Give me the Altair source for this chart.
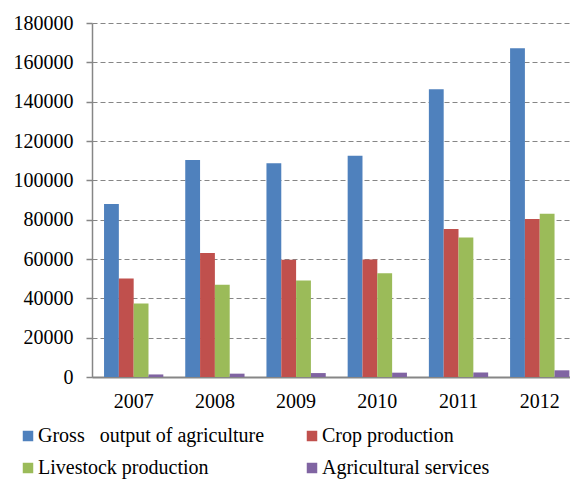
import altair as alt
import pandas as pd

years = ["2007", "2008", "2009", "2010", "2011", "2012"]
series = ["Gross\u00a0\u00a0\u00a0output of agriculture", "Crop production",
          "Livestock production", "Agricultural services"]
gross = [88000, 110300, 108700, 112500, 146300, 167200]
crop = [50100, 63000, 59600, 59700, 75200, 80300]
livestock = [37400, 46900, 49100, 52700, 70900, 83000]
services = [1300, 1700, 2000, 2200, 2300, 3400]
colors = ["#4F81BD", "#C0504D", "#9BBB59", "#8064A2"]

rows = []
for name, vals in zip(series, [gross, crop, livestock, services]):
    for y, v in zip(years, vals):
        rows.append({"year": y, "series": name, "value": v})
df = pd.DataFrame(rows)

# legend fills column by column: arrange so rows read Gross, Crop / Livestock, Services
legend_order = [series[0], series[2], series[1], series[3]]
legend_colors = [colors[0], colors[2], colors[1], colors[3]]

FONT = "Times New Roman, Liberation Serif, serif"

chart = alt.Chart(df).mark_bar().encode(
    x=alt.X("year:N", sort=years,
            scale=alt.Scale(paddingInner=0.27, paddingOuter=0.078, align=0.95),
            axis=alt.Axis(title=None, labelAngle=0, ticks=False, grid=False,
                          domainColor="#868686", domainWidth=2,
                          labelFontSize=20, labelColor="black",
                          labelPadding=14)),
    xOffset=alt.XOffset("series:N", sort=series,
                        scale=alt.Scale(paddingInner=0, paddingOuter=0)),
    y=alt.Y("value:Q",
            scale=alt.Scale(domain=[0, 180000], nice=False),
            axis=alt.Axis(title=None, values=list(range(0, 180001, 20000)),
                          format="d", grid=True, gridColor="#868686",
                          gridDash=[5, 3], gridWidth=1,
                          domainColor="#868686", domainWidth=1.5,
                          tickColor="#868686", tickSize=6, tickWidth=1.5,
                          labelFontSize=20, labelColor="black",
                          labelPadding=13)),
    color=alt.Color("series:N",
                    scale=alt.Scale(domain=legend_order, range=legend_colors),
                    legend=alt.Legend(title=None, orient="none",
                                      legendX=-74, legendY=403,
                                      columns=2, columnPadding=37,
                                      rowPadding=12, padding=0,
                                      symbolType="square", symbolSize=110,
                                      symbolStrokeWidth=0, symbolOffset=0,
                                      labelFontSize=20,
                                      labelColor="black", labelOffset=0,
                                      labelLimit=400)),
).properties(
    width=478, height=354,
    autosize=alt.AutoSizeParams(type="none"),
    padding={"left": 92, "top": 23, "right": 0, "bottom": 102},
).configure(font=FONT).configure_view(stroke=None).configure_axis(
    domainCap="butt", labelFont=FONT
).configure_legend(labelFont=FONT)

chart.save("out.html", embed_options={"renderer": "svg", "actions": False})
